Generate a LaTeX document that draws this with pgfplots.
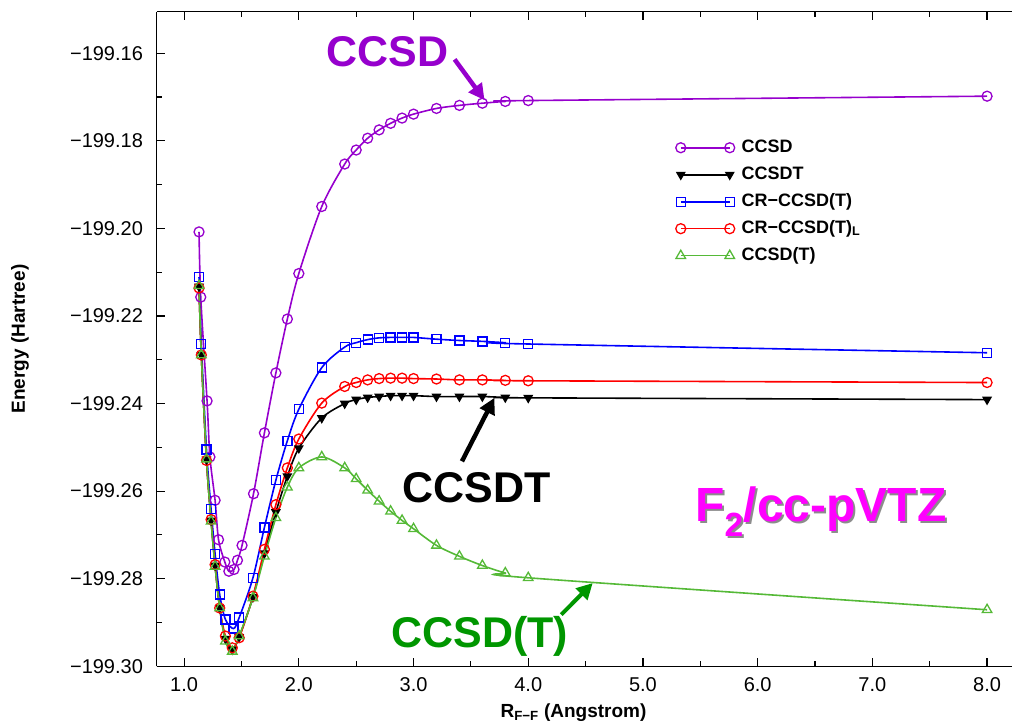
\documentclass[border=0pt]{standalone}
\usepackage{pgfplots}
\pgfplotsset{compat=1.18}
\usepackage{pgfplotstable}
\usepackage{fontspec}
\setmainfont{Liberation Sans}
\usetikzlibrary{arrows.meta}

\definecolor{ccsdpurple}{RGB}{150,0,205}
\definecolor{ccsdtgreen}{RGB}{85,185,55}
\definecolor{labelgreen}{RGB}{0,150,0}
\definecolor{magF}{RGB}{255,0,255}

\pgfplotstableread{
x y
1.13 -199.2008
1.145 -199.2157
1.20 -199.2394
1.225 -199.2522
1.27 -199.2621
1.30 -199.2711
1.355 -199.2762
1.39 -199.2783
1.435 -199.2779
1.465 -199.2758
1.505 -199.2724
1.605 -199.2606
1.70 -199.2467
1.80 -199.2330
1.90 -199.2207
2.00 -199.2103
2.2 -199.1950
2.4 -199.1853
2.5 -199.1821
2.6 -199.1794
2.7 -199.1775
2.8 -199.1760
2.9 -199.1748
3.0 -199.1739
3.2 -199.1726
3.4 -199.1719
3.6 -199.1714
3.8 -199.1710
4.0 -199.1708
8.0 -199.1698
}\ccsd

\pgfplotstableread{
x y
1.13 -199.2133
1.15 -199.2289
1.195 -199.2528
1.235 -199.2667
1.27 -199.2770
1.31 -199.2867
1.36 -199.2937
1.42 -199.2962
1.48 -199.2933
1.6 -199.2842
1.7 -199.2742
1.8 -199.2648
1.9 -199.2566
2.0 -199.2502
2.2 -199.2433
2.4 -199.2400
2.5 -199.2391
2.6 -199.2386
2.7 -199.2384
2.8 -199.2382
2.9 -199.2382
3.0 -199.2382
3.2 -199.2384
3.4 -199.2384
3.6 -199.2384
3.8 -199.2386
4.0 -199.2387
8.0 -199.2391
}\ccsdt

\pgfplotstableread{
x y
1.13 -199.2111
1.15 -199.2264
1.195 -199.2505
1.235 -199.2641
1.27 -199.2743
1.31 -199.2836
1.36 -199.2893
1.43 -199.2914
1.48 -199.2889
1.60 -199.2798
1.70 -199.2683
1.80 -199.2575
1.90 -199.2485
2.00 -199.2413
2.2 -199.2318
2.4 -199.2271
2.5 -199.2261
2.6 -199.2254
2.7 -199.2250
2.8 -199.2249
2.9 -199.2249
3.0 -199.2249
3.2 -199.2253
3.4 -199.2256
3.6 -199.2258
3.8 -199.2261
4.0 -199.2264
8.0 -199.2284
}\crccsdt

\pgfplotstableread{
x y
1.13 -199.2136
1.15 -199.2289
1.195 -199.2530
1.235 -199.2665
1.27 -199.2768
1.31 -199.2867
1.36 -199.2931
1.42 -199.2958
1.48 -199.2935
1.6 -199.2840
1.7 -199.2733
1.8 -199.2631
1.9 -199.2547
2.0 -199.2481
2.2 -199.2399
2.4 -199.2361
2.5 -199.2352
2.6 -199.2346
2.7 -199.2343
2.8 -199.2342
2.9 -199.2342
3.0 -199.2343
3.2 -199.2344
3.4 -199.2346
3.6 -199.2346
3.8 -199.2347
4.0 -199.2348
8.0 -199.2352
}\crccsdtl

\pgfplotstableread{
x y
1.13 -199.2131
1.15 -199.2289
1.195 -199.2527
1.235 -199.2669
1.27 -199.2772
1.31 -199.2867
1.36 -199.2943
1.42 -199.2966
1.48 -199.2931
1.6 -199.2844
1.7 -199.2749
1.8 -199.2661
1.9 -199.2591
2.0 -199.2547
2.2 -199.2522
2.4 -199.2547
2.5 -199.2572
2.6 -199.2598
2.7 -199.2623
2.8 -199.2646
2.9 -199.2667
3.0 -199.2686
3.2 -199.2724
3.4 -199.2749
3.6 -199.2770
3.8 -199.2787
4.0 -199.2798
8.0 -199.2871
}\ccsdpt

\begin{document}
\begin{tikzpicture}
\begin{axis}[
  scale only axis,
  width=856.3pt, height=655pt,
  xmin=0.76, xmax=8.22,
  ymin=-199.30, ymax=-199.1505,
  axis x line*=box, axis y line*=left,
  axis line style={line width=1.4pt, black},
  every tick/.style={black, line width=1.2pt},
  major tick length=8pt, minor tick length=5pt,
  xtick={1,2,3,4,5,6,7,8}, minor x tick num=1,
  xticklabels={1.0,2.0,3.0,4.0,5.0,6.0,7.0,8.0},
  ytick={-199.30,-199.28,-199.26,-199.24,-199.22,-199.20,-199.18,-199.16},
  yticklabels={−199.30,−199.28,−199.26,−199.24,−199.22,−199.20,−199.18,−199.16},
  minor y tick num=1,
  /pgf/number format/assume math mode=true,
  tick label style={font=\fontsize{20}{24}\selectfont, inner sep=0pt},
  yticklabel style={xshift=-13.5pt},
  xticklabel style={yshift=-11pt},
  every axis y label/.style={at={(axis description cs:-0.1596,0.5)}, rotate=90, anchor=center},
  every axis x label/.style={at={(axis description cs:0.5,0)}, anchor=center, yshift=-46pt, xshift=-11pt},
  label style={font=\fontsize{19}{22}\bfseries},
  ylabel={Energy (Hartree)},
  xlabel={R\textsubscript{F−F} (Angstrom)},
  clip=false,
  legend image code/.code={\draw[#1] plot coordinates {(0pt,0pt) (49pt,0pt)};},
  legend style={at={(0.603,0.81)}, anchor=north west, draw=none, fill=none,
    font=\fontsize{18}{20}\bfseries, row sep=8pt, column sep=6pt,
    nodes={inner sep=1pt, text height=13pt, text depth=4pt}},
  legend cell align=left,
]
\addplot[color=ccsdpurple, line width=1.6pt, smooth, tension=0.5, mark=o, mark size=5pt, mark options={line width=1.3pt, solid}] table {\ccsd};
\addlegendentry{CCSD}
\addplot[color=black, line width=1.6pt, smooth, tension=0.5, mark=triangle*, mark size=4.2pt, mark options={rotate=180, solid}] table {\ccsdt};
\addlegendentry{CCSDT}
\addplot[color=blue, line width=1.6pt, smooth, tension=0.5, mark=square, mark size=4.5pt, mark options={line width=1.3pt, solid}] table {\crccsdt};
\addlegendentry{CR−CCSD(T)}
\addplot[color=red, line width=1.6pt, smooth, tension=0.5, mark=o, mark size=5pt, mark options={line width=1.3pt, solid}] table {\crccsdtl};
\addlegendentry{CR−CCSD(T)\textsubscript{L}}
\addplot[color=ccsdtgreen, line width=1.6pt, smooth, tension=0.5, mark=triangle, mark size=5.5pt, mark options={line width=1.3pt, solid}] table {\ccsdpt};
\addlegendentry{CCSD(T)}

% annotations
\node[anchor=base west, inner sep=0pt, text=ccsdpurple, font=\fontsize{43}{48}\bfseries] at (axis cs:2.24,-199.1631) {CCSD};
\draw[ccsdpurple, line width=4.5pt, -{Triangle[length=16pt,width=16pt]}] (axis cs:3.358,-199.1614) -- (axis cs:3.619,-199.1707);

\node[anchor=base west, inner sep=0pt, text=black, font=\fontsize{43}{48}\bfseries] at (axis cs:2.905,-199.2627) {CCSDT};
\draw[black, line width=4.5pt, -{Triangle[length=16pt,width=16pt]}] (axis cs:3.422,-199.2532) -- (axis cs:3.705,-199.2387);

\node[anchor=base west, inner sep=0pt, text=labelgreen, font=\fontsize{43}{48}\bfseries] at (axis cs:2.805,-199.2958) {CCSD(T)};
\draw[labelgreen, line width=4pt, -{Triangle[length=16pt,width=16pt]}] (axis cs:4.288,-199.2882) -- (axis cs:4.562,-199.2810);

\node[anchor=base west, inner sep=0pt, text=black!45, font=\fontsize{48}{52}\bfseries] at ([xshift=2pt,yshift=-2pt]axis cs:5.455,-199.2669) {F\textsubscript{2}/cc-pVTZ};
\node[anchor=base west, inner sep=0pt, text=magF, font=\fontsize{48}{52}\bfseries] at (axis cs:5.455,-199.2669) {F\textsubscript{2}/cc-pVTZ};

% page extent
\path (rel axis cs:0,1) ++(-156.7pt,11.7pt) (rel axis cs:1,0) ++(0pt,-58.3pt);
\end{axis}
\end{tikzpicture}
\end{document}
